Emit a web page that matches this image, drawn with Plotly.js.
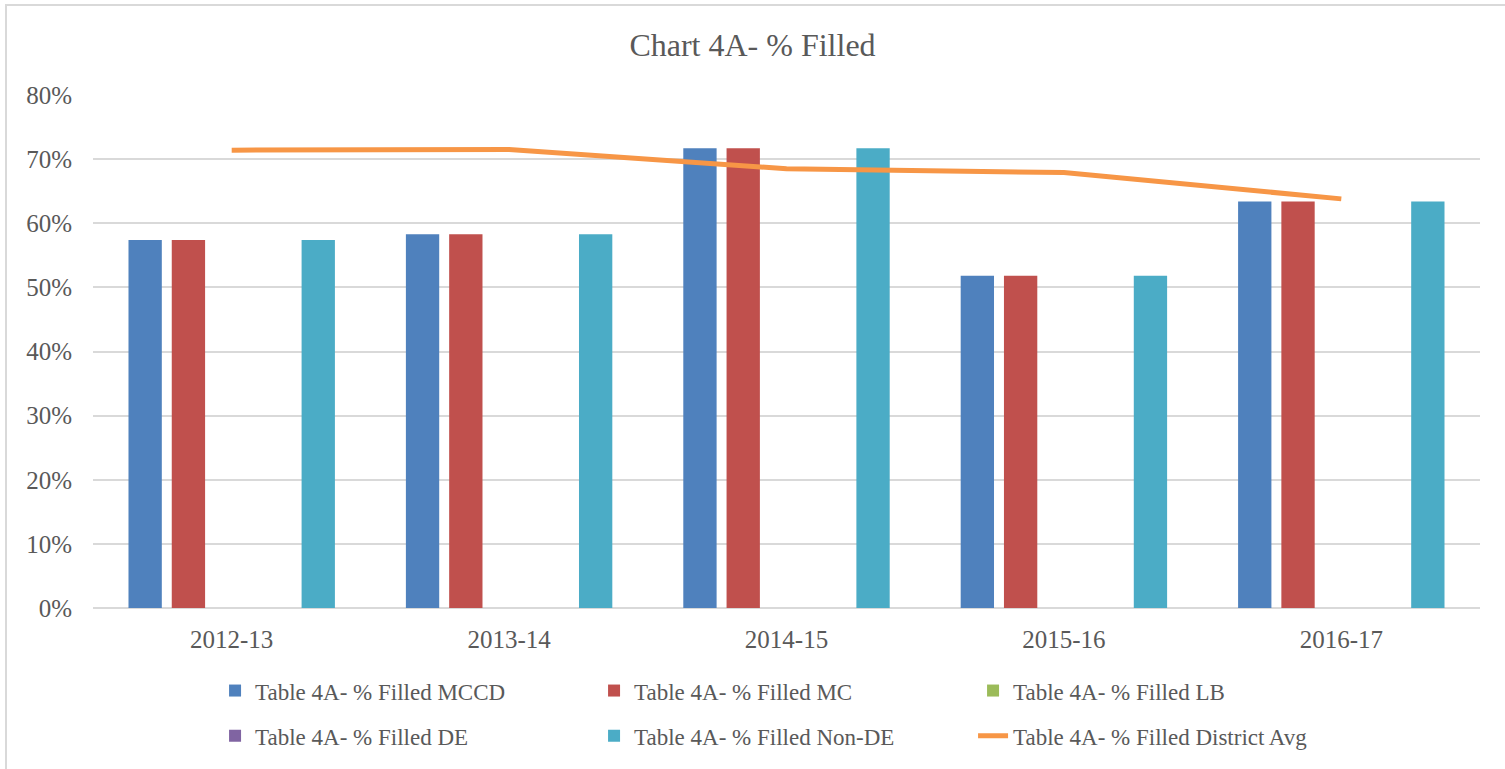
<!DOCTYPE html>
<html>
<head>
<meta charset="utf-8">
<script src="https://cdn.plot.ly/plotly-3.0.1.min.js"></script>
<style>
  html, body { margin: 0; padding: 0; background: #fff; overflow: hidden; }
  #frame { position: absolute; left: 5px; top: 4px; width: 1520px; height: 790px; border: 2px solid #d9d9d9; box-sizing: border-box; pointer-events: none; z-index: 5; }
  #chart { position: absolute; left: 0; top: 0; width: 1505px; height: 769px; }
</style>
</head>
<body>
<div id="chart"></div>
<div id="frame"></div>
<script>
const years = ["2012-13", "2013-14", "2014-15", "2015-16", "2016-17"];
const filledMCCD = [0.574, 0.583, 0.717, 0.518, 0.634];
const filledMC = [0.574, 0.583, 0.717, 0.518, 0.634];
const filledLB = [0, 0, 0, 0, 0];
const filledDE = [0, 0, 0, 0, 0];
const filledNonDE = [0.574, 0.583, 0.717, 0.518, 0.634];
const districtAvg = [0.714, 0.715, 0.685, 0.679, 0.638];

const names = [
  "Table 4A- % Filled MCCD",
  "Table 4A- % Filled MC",
  "Table 4A- % Filled LB",
  "Table 4A- % Filled DE",
  "Table 4A- % Filled Non-DE",
  "Table 4A- % Filled District Avg"
];
const colors = ["#4F81BD", "#C0504D", "#9BBB59", "#8064A2", "#4BACC6", "#F79646"];
const barSeries = [filledMCCD, filledMC, filledLB, filledDE, filledNonDE];

const txt = "#595959";
const font = "'Liberation Serif', 'Times New Roman', serif";

const traces = barSeries.map((vals, i) => ({
  type: "bar",
  x: years,
  y: vals,
  name: names[i],
  marker: { color: colors[i] },
  legend: i < 3 ? "legend" : "legend2",
  hoverinfo: "x+y+name"
}));
traces.push({
  type: "scatter",
  mode: "lines",
  x: years,
  y: districtAvg,
  name: names[5],
  line: { color: colors[5], width: 5 },
  legend: "legend2"
});

function legendCfg(yPos) {
  return {
    orientation: "h",
    x: 0.088,
    xanchor: "left",
    y: yPos,
    yanchor: "middle",
    entrywidth: 334,
    entrywidthmode: "pixels",
    font: { family: font, size: 23, color: txt },
    bgcolor: "rgba(0,0,0,0)",
    traceorder: "normal"
  };
}

const layout = {
  width: 1505,
  height: 769,
  margin: { l: 93, r: 25, t: 95, b: 159 },
  paper_bgcolor: "#ffffff",
  plot_bgcolor: "#ffffff",
  font: { family: font, color: txt },
  title: {
    text: "Chart 4A- % Filled",
    x: 0.5, xref: "container", xanchor: "center",
    y: 0.942, yref: "container", yanchor: "middle",
    font: { family: font, size: 32, color: txt }
  },
  barmode: "group",
  bargap: 0.22,
  bargroupgap: 0.23,
  xaxis: {
    type: "category",
    showgrid: false,
    showline: false,
    ticks: "",
    tickfont: { family: font, size: 25, color: txt },
    ticklabelstandoff: 14
  },
  yaxis: {
    range: [0, 0.8],
    dtick: 0.1,
    tick0: 0,
    tickformat: ".0%",
    showgrid: true,
    gridcolor: "#d9d9d9",
    gridwidth: 2,
    zeroline: true,
    zerolinecolor: "#d9d9d9",
    zerolinewidth: 2,
    showline: false,
    ticks: "",
    tickfont: { family: font, size: 25, color: txt },
    ticklabelstandoff: 20
  },
  legend: legendCfg(-0.161),
  legend2: legendCfg(-0.249),
  showlegend: true
};

Plotly.newPlot("chart", traces, layout, { displayModeBar: false, staticPlot: true });
</script>
</body>
</html>
